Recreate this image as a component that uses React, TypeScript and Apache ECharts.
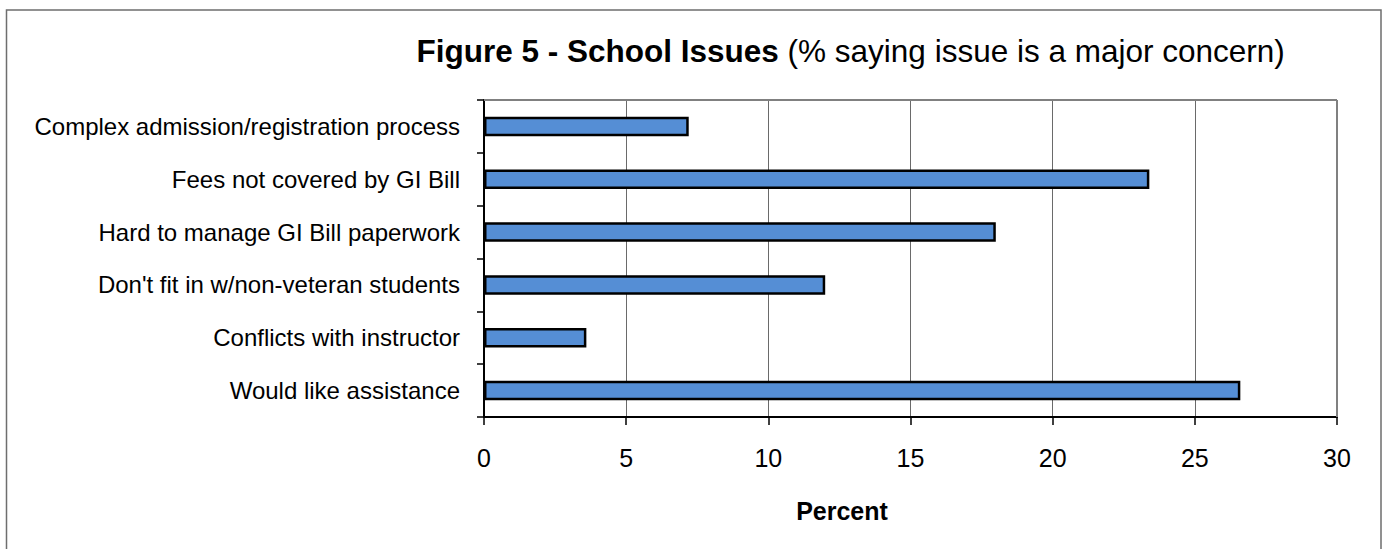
import React, { useEffect, useRef } from "react";
import * as echarts from "echarts";

const categories = [
  "Complex admission/registration process",
  "Fees not covered by GI Bill",
  "Hard to manage GI Bill paperwork",
  "Don't fit in w/non-veteran students",
  "Conflicts with instructor",
  "Would like assistance",
];
const percentValues = [7.2, 23.4, 18.0, 12.0, 3.6, 26.6];
const titleBold = "Figure 5 - School Issues";
const titleNormal = "(% saying issue is a major concern)";
const axisName = "Percent";

const FONT = "Arial, 'Liberation Sans', Helvetica, sans-serif";

export default function App() {
  const ref = useRef<HTMLDivElement>(null);
  useEffect(() => {
    if (!ref.current) return;
    const chart = echarts.init(ref.current, undefined, { renderer: "svg" });
    chart.setOption({
      animation: false,
      backgroundColor: "#ffffff",
      textStyle: { fontFamily: FONT },
      graphic: [
        {
          type: "rect",
          shape: { x: 6.5, y: 10, width: 1374.5, height: 620 },
          style: { fill: "none", stroke: "#6e6e6e", lineWidth: 1.5 },
          silent: true,
          z: -10,
        },
        {
          type: "text",
          x: 416.5,
          y: 51,
          style: {
            text: `{b|${titleBold}}{n|\u00a0${titleNormal}}`,
            verticalAlign: "middle",
            align: "left",
            rich: {
              b: { fontFamily: FONT, fontSize: 31.5, fontWeight: "bold", fill: "#000" },
              n: { fontFamily: FONT, fontSize: 31.5, fill: "#000" },
            },
          },
        },
        {
          type: "text",
          x: 842,
          y: 510.5,
          style: {
            text: axisName,
            align: "center",
            verticalAlign: "middle",
            fontFamily: FONT,
            fontSize: 25,
            fontWeight: "bold",
            fill: "#000",
          },
        },
        {
          type: "line",
          shape: { x1: 484, y1: 100, x2: 1337, y2: 100 },
          style: { stroke: "#808080", lineWidth: 2 },
          z: 5,
        },
        {
          type: "line",
          shape: { x1: 1337, y1: 100, x2: 1337, y2: 417 },
          style: { stroke: "#808080", lineWidth: 2 },
          z: 5,
        },
      ],
      grid: { left: 484, right: 48, top: 100, bottom: 132, containLabel: false },
      xAxis: {
        type: "value",
        min: 0,
        max: 30,
        interval: 5,
        axisLine: { show: true, lineStyle: { color: "#000", width: 2 } },
        axisTick: { show: true, inside: false, length: 8, lineStyle: { color: "#000", width: 1.5 } },
        axisLabel: { margin: 28, fontSize: 25, color: "#000", fontFamily: FONT },
        splitLine: { show: true, lineStyle: { color: "#6a6a6a", width: 1 } },
      },
      yAxis: {
        type: "category",
        data: categories,
        inverse: true,
        axisLine: { show: true, lineStyle: { color: "#000", width: 2 } },
        axisTick: { show: true, inside: false, length: 7, lineStyle: { color: "#000", width: 1.5 } },
        axisLabel: { margin: 24, fontSize: 24, color: "#000", fontFamily: FONT },
        splitLine: { show: false },
      },
      series: [
        {
          type: "bar",
          data: percentValues,
          barWidth: 19.5,
          itemStyle: { color: "#558ED5", borderColor: "#000", borderWidth: 2.5 },
        },
      ],
    });
    return () => chart.dispose();
  }, []);
  return (
    <div
      ref={ref}
      style={{ position: "fixed", left: 0, top: 0, width: 1385, height: 549 }}
    />
  );
}
